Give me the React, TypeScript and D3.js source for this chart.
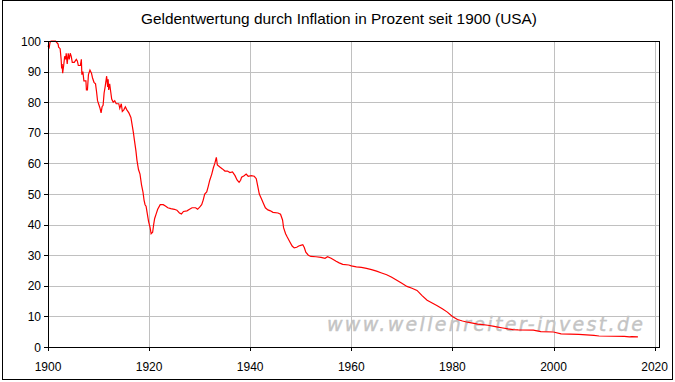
import React from "react";
import * as d3 from "d3";

const title = "Geldentwertung durch Inflation in Prozent seit 1900 (USA)";
const watermark = "www.wellenreiter-invest.de";
const xTicks = [1900, 1920, 1940, 1960, 1980, 2000, 2020];
const yTicks = [0, 10, 20, 30, 40, 50, 60, 70, 80, 90, 100];

const years = [
  1900.0, 1900.2, 1900.4, 1900.6, 1901.5, 1902.0, 1902.1, 1902.4, 1902.6, 1902.7, 1902.8, 1902.9,
  1903.1, 1903.3, 1903.5, 1903.6, 1903.8, 1904.0, 1904.2, 1904.4, 1904.6, 1904.8, 1905.2, 1905.6,
  1905.8, 1906.0, 1906.4, 1906.6, 1906.7, 1906.9, 1907.1, 1907.5, 1907.6, 1907.8, 1908.0, 1908.3,
  1908.6, 1908.8, 1909.1, 1909.4, 1909.6, 1909.8, 1910.1, 1910.3, 1910.5, 1910.7, 1910.9, 1911.1,
  1911.3, 1911.6, 1911.8, 1911.9, 1912.0, 1912.2, 1912.4, 1912.6, 1912.9, 1913.2, 1913.5, 1914.0,
  1914.2, 1914.5, 1914.7, 1915.0, 1915.3, 1915.6, 1916.0, 1916.4, 1916.7, 1916.9, 1917.1, 1917.4,
  1917.6, 1917.9, 1918.2, 1918.5, 1918.8, 1919.0, 1919.2, 1919.4, 1919.6, 1919.9, 1920.2, 1920.4,
  1920.7, 1920.9, 1921.1, 1921.4, 1921.7, 1922.2, 1922.8, 1923.3, 1923.7, 1924.3, 1925.0, 1925.5,
  1926.0, 1926.4, 1926.8, 1927.5, 1928.0, 1928.5, 1929.2, 1929.6, 1930.0, 1930.4, 1930.7, 1931.0,
  1931.4, 1931.7, 1932.0, 1932.4, 1932.7, 1933.0, 1933.3, 1933.5, 1934.0, 1934.5, 1935.0, 1935.5,
  1936.0, 1936.5, 1937.0, 1937.4, 1937.8, 1938.1, 1938.3, 1938.8, 1939.2, 1939.6, 1940.2, 1940.8,
  1941.2, 1941.5, 1941.8, 1942.2, 1942.6, 1943.0, 1943.5, 1944.0, 1944.5, 1945.5, 1946.0, 1946.4,
  1946.6, 1947.0, 1947.3, 1947.8, 1948.3, 1948.7, 1949.2, 1949.6, 1950.0, 1950.4, 1950.7, 1951.0,
  1951.5, 1952.0, 1953.0, 1954.0, 1954.8, 1955.3, 1956.0, 1956.5, 1957.0, 1957.6, 1958.3, 1959.5,
  1960.0, 1961.0, 1962.0, 1963.0, 1964.0, 1965.0, 1966.0, 1967.0, 1968.0, 1969.0, 1970.0, 1971.0,
  1972.0, 1973.0, 1974.0, 1975.0, 1976.0, 1977.0, 1978.0, 1979.0, 1980.0, 1981.0, 1982.0, 1983.0,
  1984.0, 1985.0, 1986.0, 1987.0, 1988.0, 1989.0, 1990.0, 1991.0, 1992.0, 1993.0, 1996.0, 1997.5,
  2000.0, 2001.5, 2005.0, 2008.0, 2009.0, 2014.0, 2015.0, 2015.5, 2016.7,
];

const values = [
  98.5, 97.5, 99.5, 100, 100, 99, 98, 97.5, 94, 91, 92.5, 89.5,
  92, 95, 94, 96, 92.5, 96, 94, 96, 95, 93, 93, 94,
  93.5, 92, 92, 94, 89, 90, 87, 87, 84, 84, 89, 90.5,
  89.5, 88, 86.5, 86, 83.5, 80.5, 79, 78, 76.5, 78.5, 79, 83,
  85, 88.5, 85, 87.5, 84, 86, 83.5, 81, 80, 80.5, 79.5, 79.5,
  78, 79.5, 77, 77.5, 78.5, 77.5, 76.5, 75, 72, 70, 67.5, 64,
  61, 58, 56.5, 53, 50.5, 48, 46.5, 46, 44, 41, 39, 37,
  37.5, 40, 42, 43.5, 45, 46.5, 46.5, 46, 45.5, 45.2, 45, 44.7,
  43.8, 43.5, 44.3, 44.5, 45, 45.5, 45.5, 45, 45.7, 46.5, 48, 50,
  50.7, 52.5, 54.5, 56.5, 58.5, 60, 62, 59.5, 58.8, 58.2, 57.5, 57.5,
  57, 57.2, 56, 54.6, 53.8, 54.5, 55.5, 56, 56.5, 55.8, 56, 55.8,
  55, 52.5, 50, 48.5, 47, 45.5, 44.8, 44.5, 44, 43.8, 43.4, 41.5,
  39, 37, 36, 34.5, 33, 32.4, 32.6, 33, 33.2, 33.4, 32.5, 31,
  30, 29.6, 29.5, 29.3, 29, 29.5, 29, 28.5, 28, 27.5, 27, 26.8,
  26.5, 26.2, 26, 25.7, 25.3, 24.8, 24.2, 23.6, 22.8, 21.8, 20.8, 19.8,
  19.2, 18.5, 16.8, 15.3, 14.4, 13.5, 12.5, 11.4, 10, 9, 8.5, 8.1,
  7.8, 7.5, 7.3, 7.1, 6.8, 6.5, 6.2, 5.9, 5.7, 5.6, 5.5, 5.0,
  4.9, 4.3, 4.1, 3.8, 3.6, 3.5, 3.3, 3.4, 3.3,
];

const W = 675;
const H = 382;
const M = { left: 48, right: 659, top: 41, bottom: 347 };
const FONT = "Arial, 'Liberation Sans', sans-serif";

export default function App() {
  const x = d3.scaleLinear().domain([1900, 2020.87]).range([M.left, M.right]);
  const y = d3.scaleLinear().domain([0, 100]).range([M.bottom, M.top]);
  const data = years.map((yr, i) => [yr, values[i]] as [number, number]);
  const line = d3
    .line<[number, number]>()
    .x((d) => x(d[0]))
    .y((d) => y(d[1]));

  return (
    <svg
      width={W}
      height={H}
      style={{ position: "absolute", left: 0, top: 0, background: "#fff" }}
      fontFamily={FONT}
    >
      <rect x={0} y={0} width={W} height={H} fill="#fff" />
      <rect x={2.5} y={0.5} width={670} height={379} fill="none" stroke="#000" strokeWidth={1} />
      <text x={339} y={24} textAnchor="middle" fontSize={15} fill="#000" textLength={396} lengthAdjust="spacingAndGlyphs">
        {title}
      </text>
      {/* grid */}
      {yTicks.slice(1, -1).map((t) => (
        <line
          key={"gy" + t}
          x1={M.left}
          x2={M.right}
          y1={Math.round(y(t)) + 0.5}
          y2={Math.round(y(t)) + 0.5}
          stroke="#c0c0c0"
        />
      ))}
      {xTicks.slice(1).map((t) => (
        <line
          key={"gx" + t}
          x1={Math.round(x(t)) + 0.5}
          x2={Math.round(x(t)) + 0.5}
          y1={M.top}
          y2={M.bottom}
          stroke="#c0c0c0"
        />
      ))}
      {/* watermark */}
      <text
        x={327}
        y={331}
        fontSize={19}
        fontStyle="italic"
        fontFamily="'DejaVu Sans', sans-serif"
        fill="#c4c4c4"
        stroke="#c4c4c4"
        strokeWidth={0.4}
        textLength={316}
        lengthAdjust="spacing"
      >
        {watermark}
      </text>
      {/* line */}
      <path d={line(data) || ""} fill="none" stroke="#ff0000" strokeWidth={1.2} />
      {/* frame */}
      <rect
        x={M.left + 0.5}
        y={M.top + 0.5}
        width={M.right - M.left}
        height={M.bottom - M.top}
        fill="none"
        stroke="#000"
      />
      {/* y ticks */}
      {yTicks.map((t) => (
        <g key={"yt" + t}>
          <line
            x1={M.left - 4}
            x2={M.left}
            y1={Math.round(y(t)) + 0.5}
            y2={Math.round(y(t)) + 0.5}
            stroke="#000"
          />
          <text x={41} y={y(t) + 4.5} textAnchor="end" fontSize={12} fill="#000">
            {t}
          </text>
        </g>
      ))}
      {/* x ticks */}
      {xTicks.map((t) => (
        <g key={"xt" + t}>
          <line
            x1={Math.round(x(t)) + 0.5}
            x2={Math.round(x(t)) + 0.5}
            y1={M.bottom}
            y2={M.bottom + 4}
            stroke="#000"
          />
          <text x={x(t)} y={371} textAnchor="middle" fontSize={12} fill="#000">
            {t}
          </text>
        </g>
      ))}
    </svg>
  );
}
